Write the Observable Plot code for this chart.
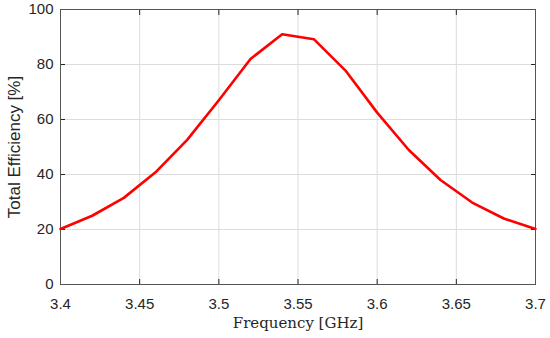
<!DOCTYPE html>
<html>
<head>
<meta charset="utf-8">
<script src="https://cdn.jsdelivr.net/npm/d3@7"></script>
<script src="https://cdn.jsdelivr.net/npm/@observablehq/plot@0.6"></script>
<style>
  html, body { margin: 0; padding: 0; background: #fff; }
  #chart svg { display: block; }
</style>
</head>
<body>
<div id="chart"></div>
<script>
const frequency = [3.40, 3.42, 3.44, 3.46, 3.48, 3.50, 3.52, 3.54, 3.56, 3.58, 3.60, 3.62, 3.64, 3.66, 3.68, 3.70];
const efficiency = [20.2, 25.0, 31.5, 40.8, 52.6, 67.0, 82.0, 91.0, 89.2, 77.8, 62.5, 48.9, 38.0, 29.8, 24.0, 20.2];
const xTicks = [3.4, 3.45, 3.5, 3.55, 3.6, 3.65, 3.7];
const xTickLabels = ["3.4", "3.45", "3.5", "3.55", "3.6", "3.65", "3.7"];
const yTicks = [0, 20, 40, 60, 80, 100];
const xLabel = "Frequency [GHz]";
const yLabel = "Total Efficiency [%]";

const data = frequency.map((f, i) => ({f, e: efficiency[i]}));
const axisColor = "#262626";

const chart = Plot.plot({
  width: 550,
  height: 338,
  marginLeft: 60,
  marginRight: 15,
  marginTop: 9,
  marginBottom: 54,
  style: {fontFamily: "Liberation Sans, Arial, sans-serif", fontSize: "15px", color: axisColor, background: "#fff"},
  x: {domain: [3.4, 3.7]},
  y: {domain: [0, 100]},
  marks: [
    Plot.gridX(xTicks, {stroke: "#dcdcdc", strokeOpacity: 1}),
    Plot.gridY(yTicks, {stroke: "#dcdcdc", strokeOpacity: 1}),
    Plot.axisX(xTicks, {anchor: "bottom", tickSize: -5, tickPadding: 19, tickFormat: (d, i) => xTickLabels[i], stroke: axisColor, fill: axisColor, label: null, fontSize: 15}),
    Plot.axisX(xTicks, {anchor: "top", tickSize: -5, tickFormat: () => "", stroke: axisColor, label: null}),
    Plot.axisY(yTicks, {anchor: "left", tickSize: -5, tickPadding: 12, stroke: axisColor, fill: axisColor, label: null, fontSize: 15}),
    Plot.axisY(yTicks, {anchor: "right", tickSize: -5, tickFormat: () => "", stroke: axisColor, label: null}),
    Plot.frame({stroke: "#555", strokeWidth: 1}),
    Plot.line(data, {x: "f", y: "e", stroke: "#ff0000", strokeWidth: 2.6}),
    Plot.text([xLabel], {frameAnchor: "bottom", dy: 43, text: d => d, fontFamily: "DejaVu Serif, Liberation Serif, serif", fontSize: 15, fill: axisColor}),
    Plot.text([yLabel], {frameAnchor: "left", textAnchor: "middle", dx: -46, rotate: -90, text: d => d, fontSize: 17, fill: axisColor})
  ]
});
document.getElementById("chart").append(chart);
</script>
</body>
</html>
